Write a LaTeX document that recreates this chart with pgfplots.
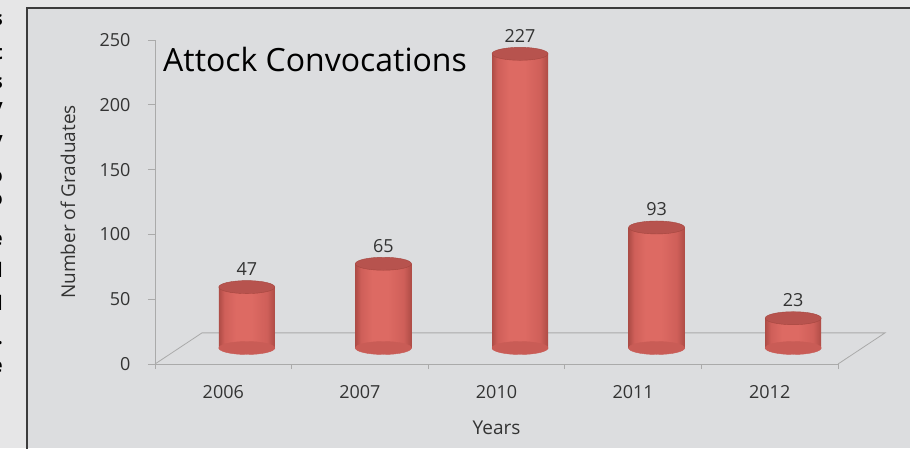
\documentclass[border=0pt]{standalone}
\usepackage{fontspec}
\setmainfont{Open Sans}
\usepackage{pgfplots}
\usepackage{pgfplotstable}
\pgfplotsset{compat=1.18}

\definecolor{outerbg}{HTML}{E6E6E7}
\definecolor{panelbg}{HTML}{DCDDDF}
\definecolor{framecol}{HTML}{3C3C3C}
\definecolor{axgray}{HTML}{AAAAAA}
\definecolor{txt}{HTML}{333333}
\definecolor{cylLight}{HTML}{DD6A63}
\definecolor{cylMid}{HTML}{CF5F59}
\definecolor{cylDark}{HTML}{AE4C46}
\definecolor{cylTop}{HTML}{B7534E}
\definecolor{cylBase}{HTML}{C95C56}
\definecolor{cylEdge}{HTML}{A5463F}

% light in the middle, darker towards both sides of each cylinder
\pgfdeclarehorizontalshading{cylinder}{100bp}{%
  color(0bp)=(cylDark); color(25bp)=(cylDark); color(30bp)=(cylMid);
  color(40bp)=(cylLight); color(54bp)=(cylLight); color(68bp)=(cylMid);
  color(75bp)=(cylDark); color(100bp)=(cylDark)}

\pgfdeclareplotmark{cylcap}{%
  \pgfpathellipse{\pgfpointorigin}{\pgfpoint{28pt}{0pt}}{\pgfpoint{0pt}{6.5pt}}%
  \pgfusepathqfillstroke}

\newcommand{\fs}[1]{\fontsize{#1}{#1}\selectfont}

% graduates per convocation
\pgfplotstableread{
x   year base v
0.5 2006 0    47
1.5 2007 0    65
2.5 2010 0    227
3.5 2011 0    93
4.5 2012 0    23
}\grads

\begin{document}
\begin{tikzpicture}
\useasboundingbox (0,0) rectangle (910pt,448pt);
\fill[outerbg] (0,0) rectangle (910pt,448pt);
\fill[panelbg] (27pt,0) rectangle (910pt,440pt);
\draw[framecol, line width=2pt] (27pt,-2pt) -- (27pt,440pt) -- (912pt,440pt);
% cut-off text of the neighbouring column
\foreach \c/\y in {s/428,t/395,s/365,y/338,y/305,o/271,o/248,e/208,l/178,l/145,./105,e/81}
  \node[anchor=east, font=\fs{20}\bfseries, inner sep=0pt] at (3pt,\y pt) {\c};

\begin{axis}[
  at={(155pt,84pt)}, anchor=south west,
  scale only axis, width=683pt, height=324pt,
  xmin=0, xmax=5, ymin=0, ymax=250,
  clip=false,
  axis x line*=bottom, axis y line*=left,
  axis line style={-, draw=axgray, line width=0.8pt},
  xtick={0.5,1.5,2.5,3.5,4.5},
  xticklabels={2006,2007,2010,2011,2012},
  minor xtick={0,1,2,3,4,5},
  ytick={0,50,100,150,200,250},
  tick align=outside,
  major tick length=7pt, minor tick length=5pt,
  tick style={draw=axgray, line width=0.8pt},
  major x tick style={draw=none},
  tick label style={font=\fs{18}, text=txt},
  xticklabel shift=11pt, yticklabel shift=14pt,
  /pgf/number format/assume math mode=true,
  xlabel={Years}, ylabel={Number of Graduates},
  xlabel style={font=\fs{19}, text=txt, at={(axis description cs:0.5,-0.196)}, anchor=center},
  ylabel style={font=\fs{19}, text=txt, at={(axis description cs:-0.1274,0.5)}, anchor=center},
]
% floor of the 3-D plot area
\draw[axgray, line width=0.8pt] (axis cs:0,0) -- (axis cs:0.344,24) -- (axis cs:5.344,24) -- (axis cs:5,0);
\end{axis}

% cylinders, set back half a depth step
\begin{axis}[
  at={(178.5pt,100pt)}, anchor=south west,
  scale only axis, width=683pt, height=324pt,
  xmin=0, xmax=5, ymin=0, ymax=250,
  hide axis, clip=false,
]
\addplot[only marks, mark=cylcap, mark options={fill=cylBase, draw=cylBase}]
  table[x=x, y=base] {\grads};
\pgfplotsinvokeforeach{0,1,2,3,4}{
  \addplot[ybar, bar width=56pt, bar shift=0pt, draw=none,
    shade, shading=cylinder, shading angle=0,
    restrict expr to domain={\coordindex}{#1:#1}]
    table[x=x, y=v] {\grads};
}
\addplot[only marks, mark=cylcap,
  mark options={fill=cylTop, draw=cylEdge, line width=0.4pt},
  nodes near coords,
  nodes near coords style={font=\fs{18}, text=txt, anchor=south, yshift=8pt},
  /pgf/number format/assume math mode=true]
  table[x=x, y=v] {\grads};
\end{axis}

\node[anchor=base west, font=\fs{32}, text=black, inner sep=0pt] at (163pt,376pt) {Attock Convocations};
\end{tikzpicture}
\end{document}
